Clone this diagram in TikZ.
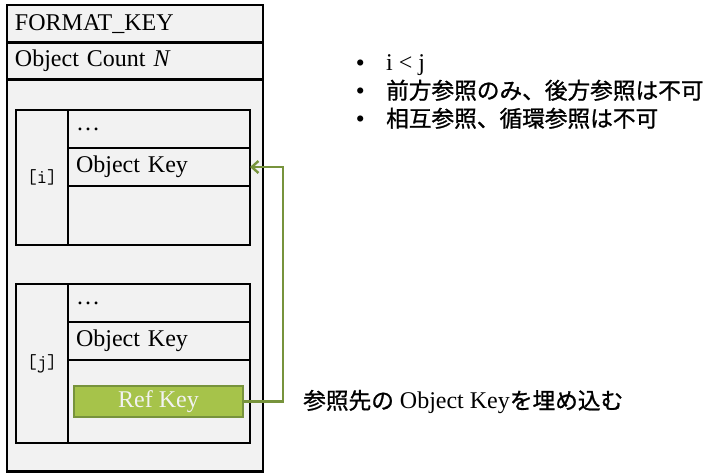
\documentclass[tikz,border=0pt]{standalone}
\usepackage{fontspec}
\setmainfont{Liberation Serif}
\newfontfamily\jpfont[FakeBold=1]{Noto Sans CJK JP}
\usetikzlibrary{arrows.meta, positioning}
\definecolor{cellgray}{HTML}{F2F2F2}
\definecolor{refgreen}{HTML}{A6C34A}
\definecolor{refline}{HTML}{77933C}
\newcommand{\bodysize}{\fontsize{18}{21}\selectfont}
\newcommand{\jp}{\jpfont\fontsize{17}{21}\selectfont}
\newcommand{\rulebullet}{{\fontsize{17}{21}\selectfont\bfseries\textbullet}}

\begin{document}
\begin{tikzpicture}[x=0.75pt, y=-0.75pt,
        cell/.style={draw, line width=2pt, fill=cellgray, anchor=north west, outer sep=0pt,
                     inner xsep=6pt, inner ysep=0pt, font=\bodysize},
        outrow/.style={cell, text width=180pt, minimum height=28pt, align=left},
        inrow/.style={cell, text width=124.5pt, minimum height=28.5pt, align=left},
        idx/.style={cell, minimum width=39pt, inner xsep=0pt, font=\ttfamily\fontsize{15}{17}\selectfont},
        refkey/.style={draw=refline, line width=2pt, fill=refgreen, text=cellgray, outer sep=0pt,
                       minimum width=126.75pt, minimum height=23.25pt, inner sep=0pt, font=\bodysize},
        refarrow/.style={-{Straight Barb[length=5pt, width=9pt]}, line width=1.8pt, draw=refline},
        note/.style={anchor=west, inner sep=0pt, font=\bodysize}
    ]
    \useasboundingbox (0,0) rectangle (726,475);
    % outer frame and header rows
    \node[cell, minimum width=192pt, minimum height=350pt] (frame) at (7,5) {};
    \node[outrow] (fmt) at (7,5) {FORMAT\_KEY};
    \node[outrow] (cnt) at (fmt.south west) {Object Count \textit{N}};
    % object [i]
    \node[idx, minimum height=101.25pt] (idxi) at (16,110) {[i]};
    \node[inrow] (dotsi) at (idxi.north east) {\dots};
    \node[inrow] (keyi) at (dotsi.south west) {Object Key};
    \node[inrow, minimum height=44.25pt] (resti) at (keyi.south west) {};
    % object [j]
    \node[idx, minimum height=119.25pt] (idxj) at (16,284) {[j]};
    \node[inrow] (dotsj) at (idxj.north east) {\dots};
    \node[inrow] (keyj) at (dotsj.south west) {Object Key};
    \node[inrow, minimum height=62.25pt] (restj) at (keyj.south west) {};
    \node[refkey] (ref) at (158.5,401.5) {Ref Key};
    % reference arrow
    \coordinate (turn) at (283,167);
    \draw[refarrow] (ref.east) -| (turn) -- (keyi.east);
    \node[note] (embed) at (303,402) {{\jp 参照先の} Object Key{\jp を埋め込む}};
    % rules
    \node[anchor=north west, inner sep=0pt, font=\bodysize] (rules) at (356,51) {%
        \begin{tabular}{@{}l@{\hspace{16.5pt}}l@{}}
            \rulebullet & i < j\\
            \rulebullet & {\jp 前方参照のみ、後方参照は不可}\\
            \rulebullet & {\jp 相互参照、循環参照は不可}
        \end{tabular}};
\end{tikzpicture}
\end{document}
